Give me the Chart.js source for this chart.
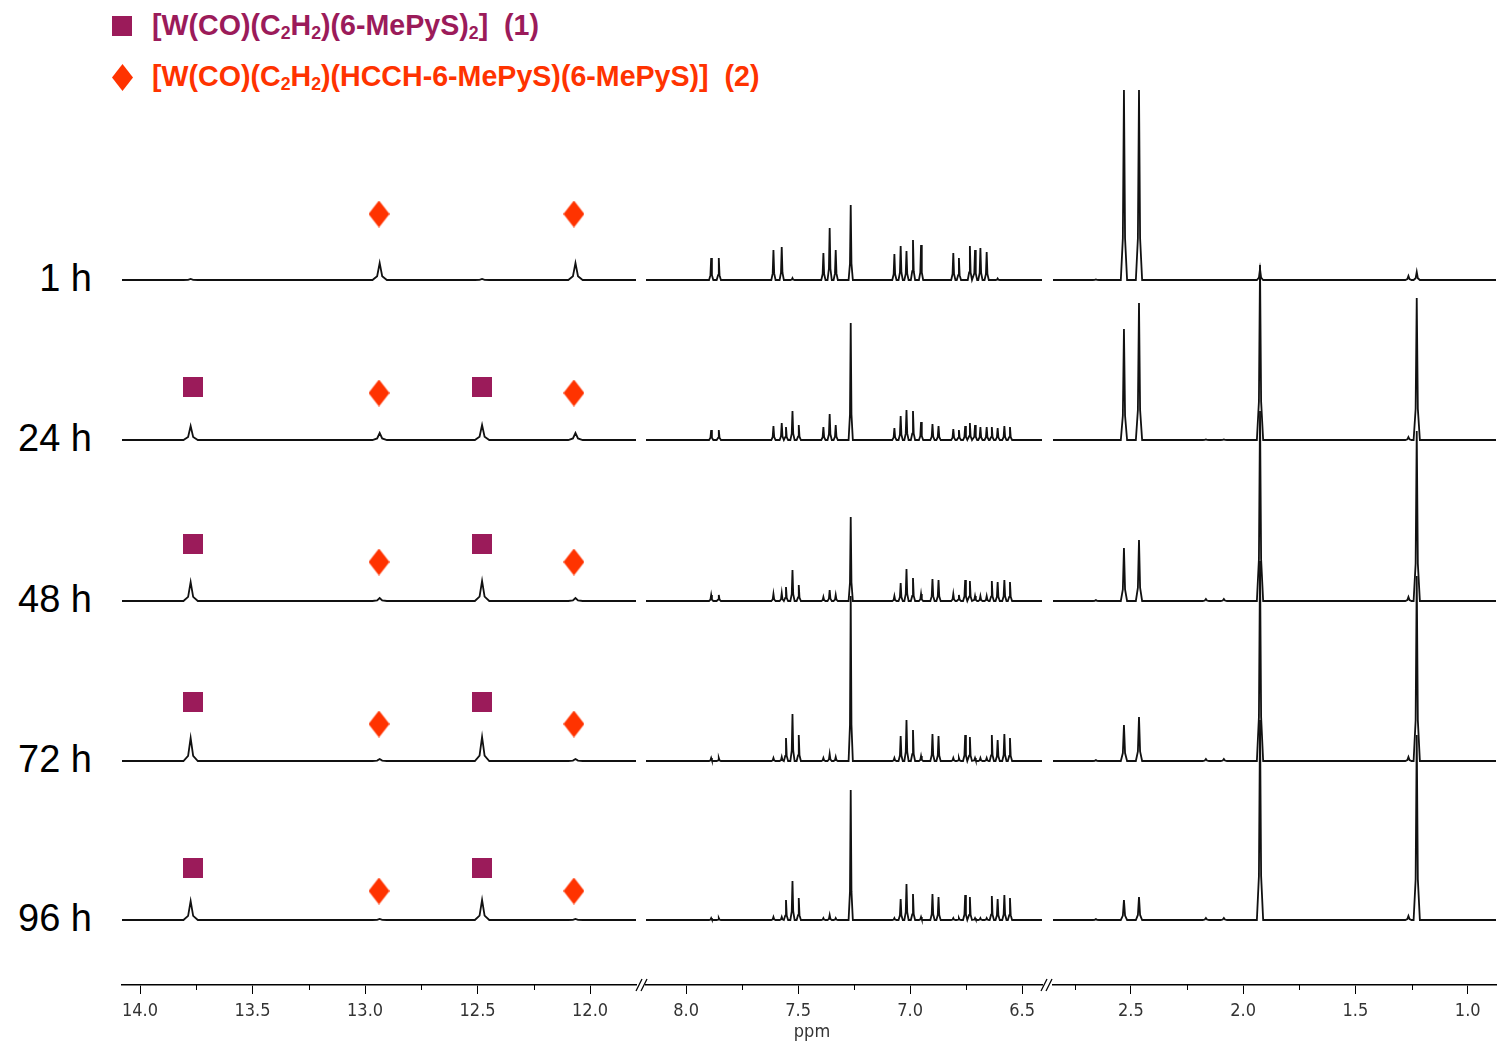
<!DOCTYPE html>
<html>
<head>
<meta charset="utf-8">
<script src="https://cdn.jsdelivr.net/npm/chart.js@4.4.0/dist/chart.umd.min.js"></script>
<style>
  body { margin: 0; background: #fff; width: 1500px; height: 1043px; position: relative; overflow: hidden;
         font-family: 'Liberation Sans', Arial, sans-serif; }
  .panel { position: absolute; top: 0; height: 1043px; }
  .legend { position: absolute; left: 152px; font-weight: bold; font-size: 28.6px; line-height: 28px; white-space: pre; }
  .legend sub { font-size: 0.62em; vertical-align: -0.22em; line-height: 0; }
  .mark { position: absolute; }
  .time { position: absolute; left: 0; width: 92px; text-align: right; font-size: 38px; line-height: 38px; color: #000; }
  .unit { position: absolute; left: 780px; top: 1020px; width: 64px; text-align: center; color: #333;
          font-family: 'Liberation Sans Narrow', 'DejaVu Sans Condensed', sans-serif; font-size: 18px; }
</style>
</head>
<body>

<div class="mark" style="left:112px;top:16px;width:20px;height:20px;background:#9b1b5a"></div>
<div class="legend" style="top:11px;color:#9b1b5a">[W(CO)(C<sub>2</sub>H<sub>2</sub>)(6-MePyS)<sub>2</sub>]  (1)</div>
<div class="mark" style="left:112px;top:64px;width:21px;height:27px;background:#ff3300;clip-path:polygon(50% 0,100% 50%,50% 100%,0 50%)"></div>
<div class="legend" style="top:62px;color:#ff3300">[W(CO)(C<sub>2</sub>H<sub>2</sub>)(HCCH-6-MePyS)(6-MePyS)]  (2)</div>

<div id="times"></div>

<div class="panel" style="left:92px;width:574px"><canvas id="low"></canvas></div>
<div class="panel" style="left:616px;width:456px"><canvas id="arom"></canvas></div>
<div class="panel" style="left:1023px;width:503px"><canvas id="high"></canvas></div>

<svg style="position:absolute;left:0;top:0" width="1500" height="1043">
  <g stroke="#000" stroke-width="1.3">
    <line x1="636" y1="991" x2="642" y2="979"/><line x1="641" y1="991" x2="647" y2="979"/>
    <line x1="1041" y1="991" x2="1047" y2="979"/><line x1="1046" y1="991" x2="1052" y2="979"/>
  </g>
</svg>
<div class="unit">ppm</div>

<script>
// ---- data ----
const times = ['1 h', '24 h', '48 h', '72 h', '96 h'];

// 14.0 - 11.8 ppm, broad signals
const peaksLow = [13.775, 12.935, 12.48, 12.065];
const heightsLow = [
  [1, 17, 1, 17],
  [14, 7, 15, 7],
  [19, 3, 20, 3],
  [23, 2, 24, 2],
  [19, 1, 20, 1]
];

// 8.2 - 6.4 ppm, aromatic region (7.265 = CHCl3)
const peaksArom = [7.888, 7.854, 7.610, 7.573, 7.554, 7.525, 7.497, 7.387, 7.359, 7.332, 7.265,
  7.070, 7.042, 7.016, 6.987, 6.951, 6.900, 6.873, 6.807, 6.782, 6.754, 6.733, 6.710, 6.686,
  6.658, 6.635, 6.609, 6.579, 6.554];
const heightsArom = [
  [22, 22, 30, 33, 0, 2, 0, 27, 52, 30, 75, 26, 34, 29, 40, 35, 0, 0, 27, 22, 0, 34, 30, 32, 28, 0, 1.5, 0, 0],
  [10, 10, 14, 17, 13, 29, 15, 13, 26, 15, 117, 12, 24, 30, 29, 18, 16, 14, 11, 10, 14, 17, 15, 13, 13, 13, 12, 14, 13],
  [6, 6, 7, 8, 14, 31, 16, 4, 11, 6, 84, 5, 18, 32, 23, 7, 22, 21, 7, 6, 21, 20, 5, 5, 5, 20, 19, 21, 19],
  [3, 3, 3, 4, 23, 47, 26, 3, 7, 4, 165, 3, 25, 41, 31, 5, 27, 25, 3, 3, 26, 24, 3, 3, 3, 26, 21, 27, 23],
  [2, 2, 3, 3, 20, 39, 22, 2, 5, 2, 130, 2, 21, 36, 26, 3, 26, 23, 2, 2, 25, 23, 2, 2, 2, 24, 21, 25, 22]
];

// 2.85 - 0.9 ppm, methyl / solvent region
const peaksHigh = [2.656, 2.531, 2.464, 2.166, 2.086, 1.925, 1.264, 1.227];
const heightsHigh = [
  [0.5, 190, 190, 0, 0, 11, 4, 8],
  [0, 111, 137, 0.5, 0.5, 175, 3, 142],
  [1, 53, 61, 2, 2, 190, 4, 170],
  [1, 36, 44, 2, 2, 200, 4, 185],
  [1, 20, 23, 2, 2, 200, 4, 185]
];

// peaks flagged in the low-field region
const squarePpm = [13.765, 12.482];   // compound (1)
const diamondPpm = [12.938, 12.072];  // compound (2)

// ---- layout ----
const traceOffsets = [705, 545, 384, 224, 65];   // baseline of each trace, y units (1 unit = 1 px)
const squareLift = [null, 53, 57, 59, 52];
const diamondLift = [66, 47, 39, 37, 29];
const yMax = 925;
const padX = 30;

document.getElementById('times').innerHTML = times.map(function(t, i) {
  const base = 985 - traceOffsets[i];
  return '<div class="time" style="top:' + (base - 21) + 'px">' + t + '</div>';
}).join('');

function markerCanvas(w, h, color, diamond) {
  const c = document.createElement('canvas');
  c.width = w; c.height = h;
  const g = c.getContext('2d');
  g.fillStyle = color;
  if (diamond) {
    g.beginPath();
    g.moveTo(w / 2, 0); g.lineTo(w, h / 2); g.lineTo(w / 2, h); g.lineTo(0, h / 2);
    g.closePath(); g.fill();
  } else {
    g.fillRect(0, 0, w, h);
  }
  return c;
}
const squareImg = markerCanvas(20, 20, '#9b1b5a', false);
const diamondImg = markerCanvas(21, 27, '#ff3300', true);

// each peak -> base, shoulder, apex, shoulder, base (peaks listed high to low ppm)
function buildTrace(peaks, heights, w, lo, hi, offset) {
  const pts = [{x: hi, y: offset}];
  peaks.forEach(function(p, i) {
    const h = heights[i];
    if (!h) return;
    pts.push({x: p + w, y: offset});
    pts.push({x: p + w * 0.35, y: offset + h * 0.22});
    pts.push({x: p, y: offset + h});
    pts.push({x: p - w * 0.35, y: offset + h * 0.22});
    pts.push({x: p - w, y: offset});
  });
  pts.push({x: lo, y: offset});
  return pts;
}

const minorTicks = {
  id: 'minorTicks',
  afterDraw(chart) {
    const s = chart.scales.x;
    const ctx = chart.ctx;
    ctx.save();
    ctx.strokeStyle = '#000';
    ctx.lineWidth = 1;
    for (let q = Math.ceil(s.min * 4); q <= Math.floor(s.max * 4); q++) {
      if (q % 2 === 0) continue;
      const x = Math.round(s.getPixelForValue(q / 4)) + 0.5;
      ctx.beginPath();
      ctx.moveTo(x, s.top);
      ctx.lineTo(x, s.top + 5);
      ctx.stroke();
    }
    ctx.restore();
  }
};

function makePanel(id, lo, hi, peaks, heights, w, extra) {
  const datasets = heights.map(function(h, i) {
    return {
      type: 'line',
      data: buildTrace(peaks, h, w, lo, hi, traceOffsets[i]),
      borderColor: '#111',
      borderWidth: 1.8,
      pointRadius: 0,
      tension: 0,
      clip: false
    };
  });
  return new Chart(document.getElementById(id), {
    type: 'line',
    data: {datasets: datasets.concat(extra || [])},
    plugins: [minorTicks],
    options: {
      responsive: true,
      maintainAspectRatio: false,
      animation: false,
      events: [],
      layout: {padding: {top: 60, left: padX, right: padX, bottom: 0}},
      plugins: {legend: {display: false}, tooltip: {enabled: false}},
      scales: {
        x: {
          type: 'linear', reverse: true, min: lo, max: hi,
          border: {display: true, color: '#000', width: 1.6},
          grid: {display: true, drawOnChartArea: false, drawTicks: true, tickLength: 9, color: '#000', lineWidth: 1},
          ticks: {
            stepSize: 0.5, includeBounds: false, autoSkip: false, maxRotation: 0, padding: 7,
            color: '#333',
            font: {family: "'Liberation Sans Narrow', 'DejaVu Sans Condensed', sans-serif", size: 18},
            callback: function(v) { return v.toFixed(1); }
          },
          afterFit: function(s) { s.height = 58; s.paddingLeft = 0; s.paddingRight = 0; }
        },
        y: {display: false, min: 0, max: yMax}
      }
    }
  });
}

const markerSets = [];
traceOffsets.forEach(function(off, i) {
  if (squareLift[i] !== null) {
    markerSets.push({
      type: 'scatter',
      data: squarePpm.map(function(p) { return {x: p, y: off + squareLift[i]}; }),
      pointStyle: squareImg, pointRadius: 10, showLine: false, clip: false
    });
  }
  markerSets.push({
    type: 'scatter',
    data: diamondPpm.map(function(p) { return {x: p, y: off + diamondLift[i]}; }),
    pointStyle: diamondImg, pointRadius: 12, showLine: false, clip: false
  });
});

makePanel('low', 11.796, 14.08, peaksLow, heightsLow, 0.032, markerSets);
makePanel('arom', 6.411, 8.179, peaksArom, heightsArom, 0.0095);
makePanel('high', 0.874, 2.847, peaksHigh, heightsHigh, 0.014);
</script>
</body>
</html>
